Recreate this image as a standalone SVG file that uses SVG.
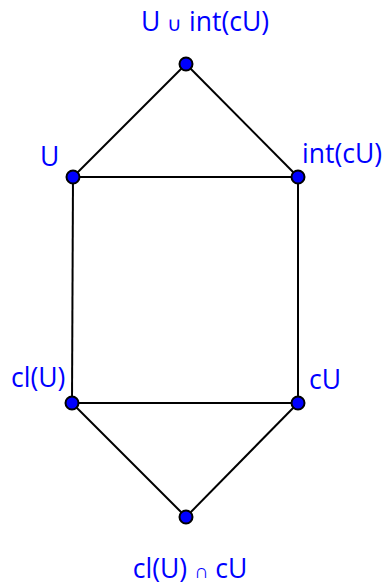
<svg xmlns="http://www.w3.org/2000/svg" width="384" height="586" viewBox="0 0 384 586">
<style>
.e{stroke:#000;stroke-width:2;fill:none}
.n{fill:#0000ff;stroke:#000;stroke-width:2}
.t{font-family:"Open Sans","Noto Sans",sans-serif;font-size:26.5px;fill:#0000ff}
.s{font-size:20px}
</style>
<rect width="384" height="586" fill="#fff"/>
<g id="edges">
<line class="e" x1="186" y1="64" x2="73" y2="177"/>
<line class="e" x1="186" y1="64" x2="298" y2="177"/>
<line class="e" x1="73" y1="177" x2="298" y2="177"/>
<line class="e" x1="73" y1="177" x2="72" y2="403"/>
<line class="e" x1="298" y1="177" x2="298" y2="403"/>
<line class="e" x1="72" y1="403" x2="298" y2="403"/>
<line class="e" x1="72" y1="403" x2="186" y2="517"/>
<line class="e" x1="298" y1="403" x2="186" y2="517"/>
</g>
<g id="top"><circle class="n" cx="186" cy="64" r="6.5"/><text class="t" x="205" y="31" text-anchor="middle">U <tspan class="s">∪</tspan> int(cU)</text></g>
<g id="U"><circle class="n" cx="73" cy="177" r="6.5"/><text class="t" x="40" y="166">U</text></g>
<g id="intcU"><circle class="n" cx="298" cy="177" r="6.5"/><text class="t" x="302" y="163">int(cU)</text></g>
<g id="clU"><circle class="n" cx="72" cy="403" r="6.5"/><text class="t" x="11" y="387">cl(U)</text></g>
<g id="cU"><circle class="n" cx="298" cy="403" r="6.5"/><text class="t" x="309" y="389">cU</text></g>
<g id="bottom"><circle class="n" cx="186" cy="517" r="6.5"/><text class="t" x="190" y="578" text-anchor="middle">cl(U) <tspan class="s">∩</tspan> cU</text></g>
</svg>
